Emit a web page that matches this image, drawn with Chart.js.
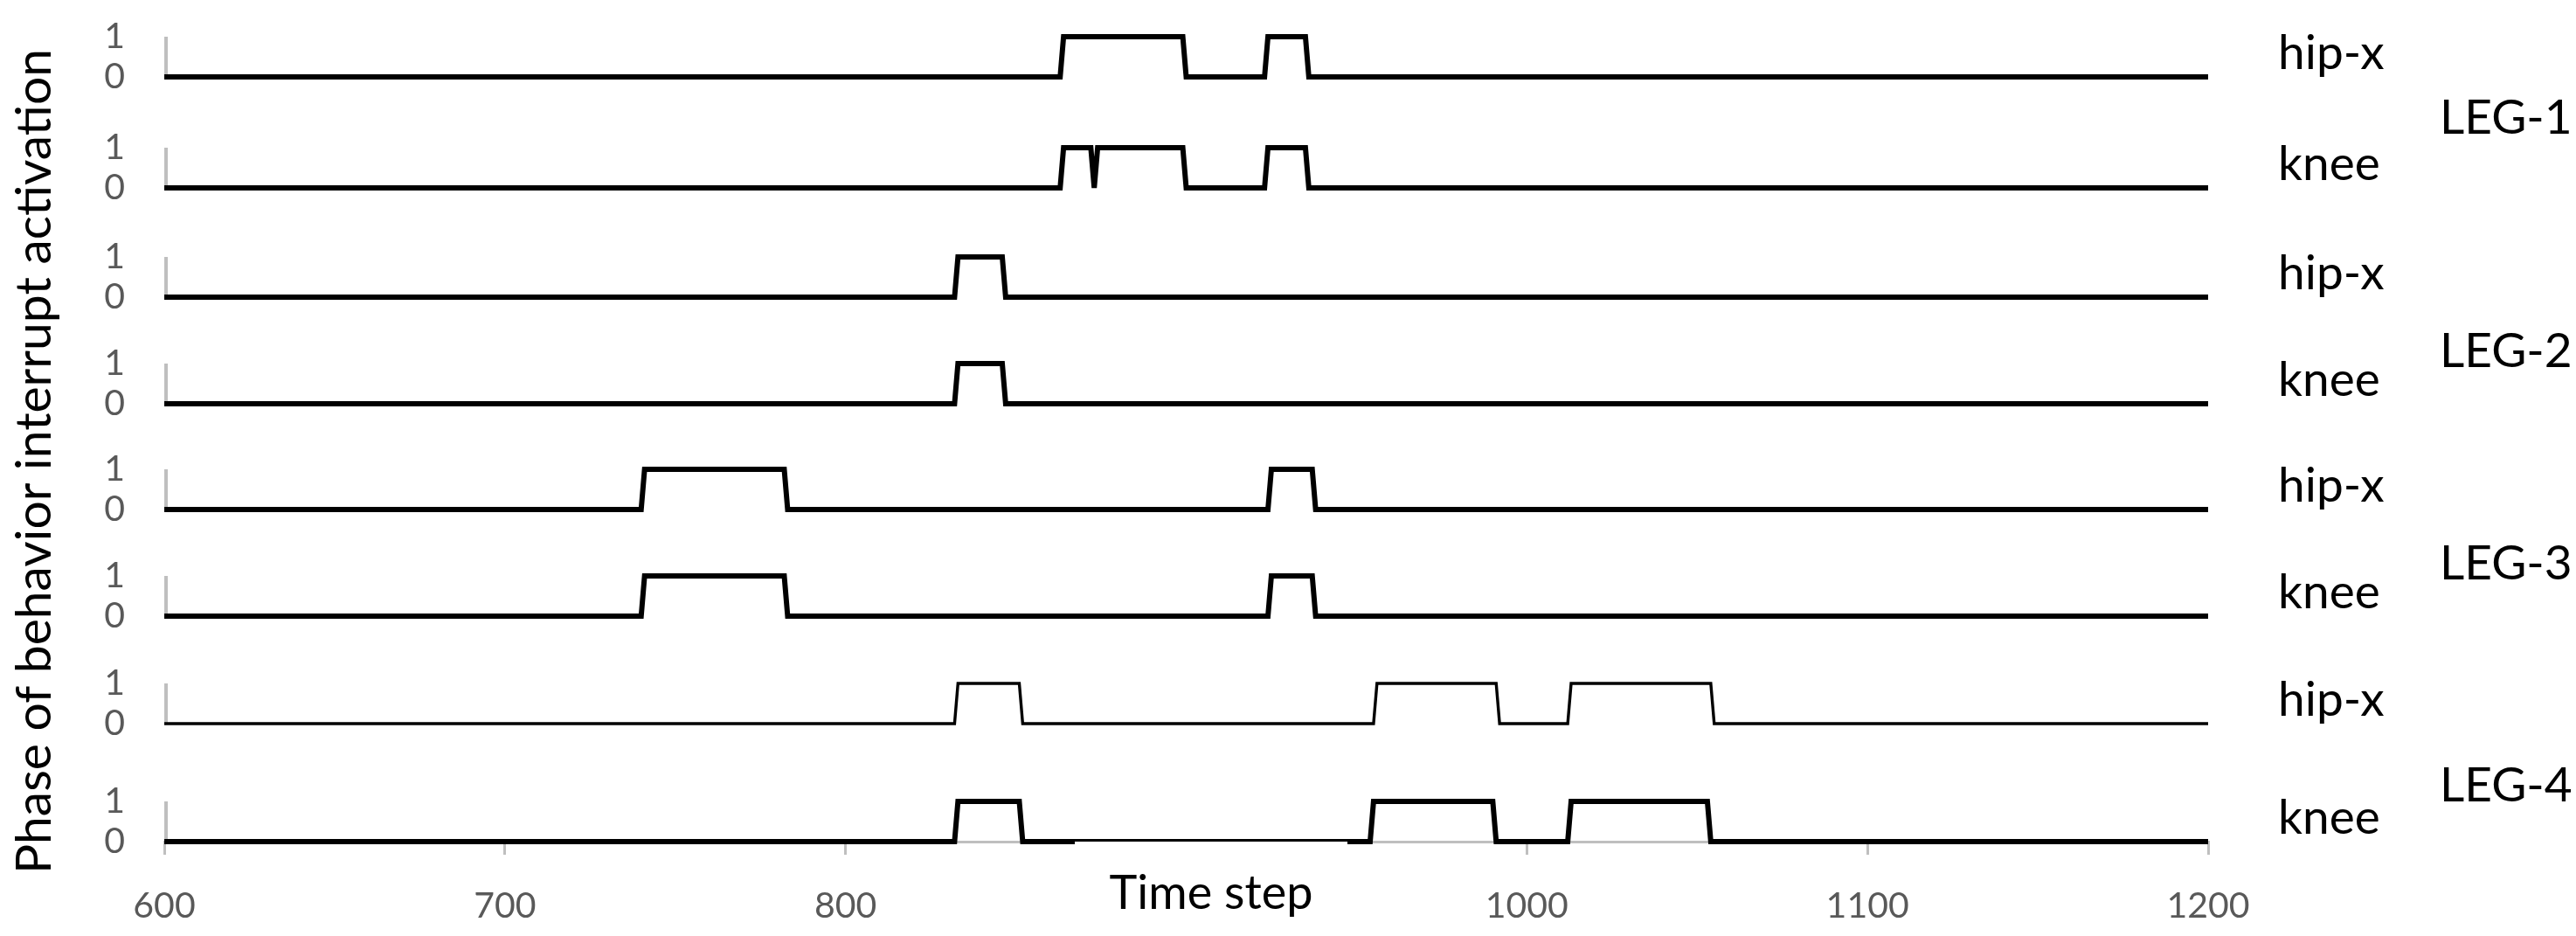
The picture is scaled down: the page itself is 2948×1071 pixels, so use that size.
<!DOCTYPE html>
<html>
<head>
<meta charset="utf-8">
<title>Phase of behavior interrupt activation</title>
<script src="https://cdn.jsdelivr.net/npm/chart.js@4.4.1/dist/chart.umd.min.js"></script>
<style>
  html, body { margin: 0; padding: 0; background: #fff; }
  #wrap { width: 2948px; height: 1071px; position: relative; }
</style>
</head>
<body>
<div id="wrap"><canvas id="chart" width="2948" height="1071"></canvas></div>
<script>
// switching points [time step, activation]
const leg1HipX = [[600,0],[863,0],[864,1],[899,1],[900,0],[923,0],[924,1],[935,1],[936,0],[1200,0]];
const leg1Knee = [[600,0],[863,0],[864,1],[872,1],[873,0],[874,1],[899,1],[900,0],[923,0],[924,1],[935,1],[936,0],[1200,0]];
const leg2HipX = [[600,0],[832,0],[833,1],[846,1],[847,0],[1200,0]];
const leg2Knee = [[600,0],[832,0],[833,1],[846,1],[847,0],[1200,0]];
const leg3HipX = [[600,0],[740,0],[741,1],[782,1],[783,0],[924,0],[925,1],[937,1],[938,0],[1200,0]];
const leg3Knee = [[600,0],[740,0],[741,1],[782,1],[783,0],[924,0],[925,1],[937,1],[938,0],[1200,0]];
const leg4HipX = [[600,0],[832,0],[833,1],[851,1],[852,0],[955,0],[956,1],[991,1],[992,0],[1012,0],[1013,1],[1054,1],[1055,0],[1200,0]];
const leg4Knee = [[600,0],[832,0],[833,1],[851,1],[852,0],[954,0],[955,1],[990,1],[991,0],[1012,0],[1013,1],[1053,1],[1054,0],[1200,0]];

const seriesList = [leg1HipX, leg1Knee, leg2HipX, leg2Knee, leg3HipX, leg3Knee, leg4HipX, leg4Knee];
const jointLabels = ['hip-x', 'knee', 'hip-x', 'knee', 'hip-x', 'knee', 'hip-x', 'knee'];
const legLabels = ['LEG-1', 'LEG-2', 'LEG-3', 'LEG-4'];
const xTicks = [600, 700, 800, 900, 1000, 1100, 1200];
const yTicks = [0, 1];

// layout, in px
const rowZeroPx = [88, 215, 340, 462, 583, 705, 828, 963]; // where each row's 0 sits
const unitPx = 46;      // height of 0 -> 1
const gapBelow = 20;    // room under each row's 0
const plotTop = 20;
const legCenterPx = [135, 402, 645, 899];
const lineWidths = [6, 6, 6, 6, 6, 6, 3.4, 6];
const GREY_TXT = '#595959';
const GREY_AX = '#bfbfbf';

Chart.defaults.font.family = 'Lato';

// one y scale per row, stacked on the left
const scales = {
  x: {
    type: 'linear', min: 600, max: 1200,
    afterBuildTicks: s => { s.ticks = xTicks.map(v => ({ value: v })); },
    afterFit: s => { s.height = 1071 - rowZeroPx[7]; s.paddingLeft = 0; s.paddingRight = 0; },
    grid: { drawOnChartArea: false, drawTicks: true, tickLength: 15, color: GREY_AX, lineWidth: 3 },
    border: { color: GREY_AX, width: 3 },
    ticks: { color: GREY_TXT, font: { size: 41 }, padding: 34, maxRotation: 0, autoSkip: false,
             callback: v => String(v) }
  }
};
rowZeroPx.forEach((z, i) => {
  const top = i === 0 ? plotTop : rowZeroPx[i - 1] + gapBelow;
  const bottom = i === rowZeroPx.length - 1 ? z : z + gapBelow;
  scales['y' + i] = {
    type: 'linear', position: 'left', stack: 'rows',
    stackWeight: bottom - top, weight: rowZeroPx.length - i,
    min: -(bottom - z) / unitPx, max: (z - top) / unitPx,
    afterBuildTicks: s => { s.ticks = yTicks.map(v => ({ value: v })); },
    afterFit: s => { s.width = 100; s.paddingTop = 0; s.paddingBottom = 0; },
    grid: { display: false, drawTicks: false },
    border: { display: false },
    ticks: { color: GREY_TXT, font: { size: 41 }, padding: 45, autoSkip: false,
             callback: v => String(v) }
  };
});

const decor = {
  id: 'decor',
  beforeDatasetsDraw(chart) {
    const ctx = chart.ctx;
    const x = chart.chartArea.left + 2;
    ctx.save();
    ctx.strokeStyle = GREY_AX;
    ctx.lineWidth = 4;
    rowZeroPx.forEach((z, i) => {
      const s = chart.scales['y' + i];
      ctx.beginPath();
      ctx.moveTo(x, s.getPixelForValue(1));
      ctx.lineTo(x, s.getPixelForValue(0));
      ctx.stroke();
    });
    ctx.restore();
  },
  afterDraw(chart) {
    const ctx = chart.ctx;
    ctx.save();
    ctx.fillStyle = '#000';
    ctx.font = '55px Lato';
    ctx.textAlign = 'left';
    ctx.textBaseline = 'alphabetic';
    jointLabels.forEach((lab, i) => {
      const y0 = chart.scales['y' + i].getPixelForValue(0);
      ctx.fillText(lab, 2607, y0 - 9);
    });
    ctx.textBaseline = 'middle';
    legLabels.forEach((lab, k) => ctx.fillText(lab, 2792, legCenterPx[k]));

    // x title sits in a white box that hides part of the bottom row
    const yb = chart.scales.y7.getPixelForValue(0);
    ctx.fillStyle = '#fff';
    ctx.fillRect(1230, yb, 312, 1071 - yb);
    ctx.fillStyle = '#000';
    ctx.font = '54px Lato';
    ctx.textAlign = 'center';
    ctx.textBaseline = 'alphabetic';
    ctx.fillText('Time step', 1386, 1040);

    ctx.font = '57px Lato';
    ctx.translate(58, 528);
    ctx.rotate(-Math.PI / 2);
    ctx.fillText('Phase of behavior interrupt activation', 0, 0);
    ctx.restore();
  }
};

new Chart(document.getElementById('chart'), {
  type: 'line',
  data: {
    datasets: seriesList.map((s, i) => ({
      label: legLabels[Math.floor(i / 2)] + ' ' + jointLabels[i],
      data: s.map(p => ({ x: p[0], y: p[1] })),
      yAxisID: 'y' + i,
      borderColor: '#000',
      borderWidth: lineWidths[i],
      borderJoinStyle: 'miter',
      pointRadius: 0,
      tension: 0,
      clip: false,
      fill: false
    }))
  },
  options: {
    responsive: false,
    animation: false,
    devicePixelRatio: 1,
    layout: { padding: { left: 88, right: 421, top: plotTop, bottom: 0 } },
    plugins: { legend: { display: false }, tooltip: { enabled: false } },
    scales: scales
  },
  plugins: [decor]
});
</script>
</body>
</html>
